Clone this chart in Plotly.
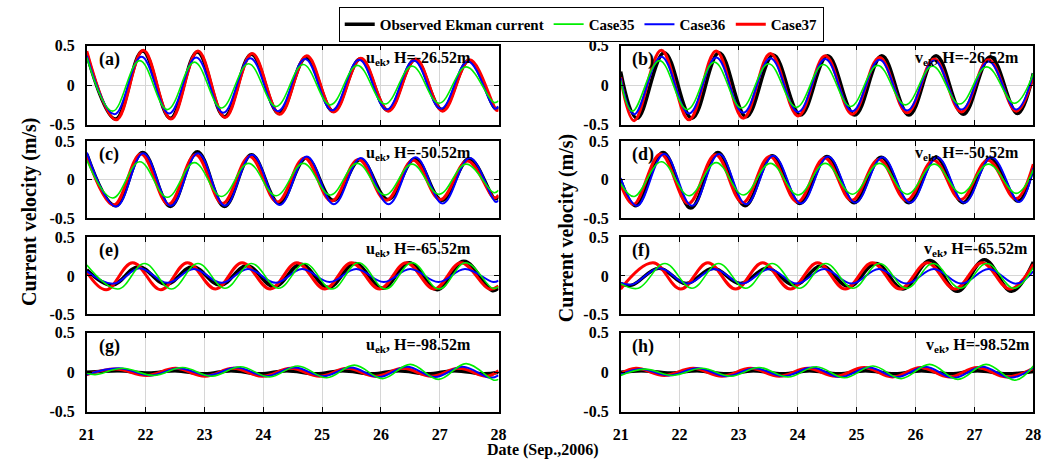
import plotly.graph_objects as go

# ---------------- data ----------------
DAYS = [21, 22, 23, 24, 25, 26, 27, 28]
DAY_LABELS = ["21", "22", "23", "24", "25", "26", "27", "28"]
Y_TICKS = [-0.5, 0, 0.5]
Y_LABELS = ["-0.5", "0", "0.5"]

SERIES_NAMES = ["Observed Ekman current", "Case35", "Case36", "Case37"]
PANEL_TAGS = ["(a)", "(b)", "(c)", "(d)", "(e)", "(f)", "(g)", "(h)"]
PANEL_COMP = ["u", "v", "u", "v", "u", "v", "u", "v"]
PANEL_DEPTH = ["-26.52", "-26.52", "-50.52", "-50.52", "-65.52", "-65.52", "-98.52", "-98.52"]

# (a) u, H=-26.52m
A_T_OBS = [21.00, 21.49, 21.95, 22.42, 22.88, 23.34, 23.80, 24.27, 24.73, 25.19, 25.65, 26.12, 26.58, 27.04, 27.50, 27.95, 28.00]
A_V_OBS = [0.39, -0.43, 0.43, -0.42, 0.42, -0.40, 0.39, -0.36, 0.35, -0.33, 0.33, -0.32, 0.32, -0.31, 0.31, -0.30, -0.28]
A_T_C35 = [21.00, 21.44, 21.90, 22.37, 22.83, 23.29, 23.75, 24.22, 24.68, 25.14, 25.60, 26.07, 26.53, 26.99, 27.45, 27.92, 28.00]
A_V_C35 = [0.35, -0.33, 0.31, -0.31, 0.29, -0.29, 0.27, -0.27, 0.26, -0.25, 0.25, -0.24, 0.24, -0.23, 0.23, -0.22, -0.20]
A_T_C36 = [21.00, 21.47, 21.93, 22.40, 22.86, 23.32, 23.78, 24.25, 24.71, 25.17, 25.63, 26.10, 26.56, 27.02, 27.48, 27.94, 28.00]
A_V_C36 = [0.37, -0.37, 0.36, -0.36, 0.35, -0.35, 0.34, -0.33, 0.33, -0.32, 0.32, -0.31, 0.31, -0.30, 0.30, -0.30, -0.27]
A_T_C37 = [21.00, 21.50, 21.96, 22.43, 22.89, 23.35, 23.81, 24.28, 24.74, 25.20, 25.66, 26.13, 26.59, 27.05, 27.51, 27.97, 28.00]
A_V_C37 = [0.43, -0.44, 0.44, -0.43, 0.43, -0.41, 0.40, -0.37, 0.37, -0.34, 0.34, -0.33, 0.33, -0.33, 0.32, -0.32, -0.31]

# (b) v, H=-26.52m
B_T_OBS = [21.00, 21.28, 21.74, 22.21, 22.67, 23.13, 23.59, 24.05, 24.51, 24.97, 25.43, 25.89, 26.35, 26.81, 27.27, 27.73, 28.00]
B_V_OBS = [0.17, -0.42, 0.41, -0.42, 0.41, -0.40, 0.38, -0.38, 0.37, -0.38, 0.37, -0.38, 0.37, -0.37, 0.36, -0.36, 0.15]
B_T_C35 = [21.00, 21.20, 21.66, 22.13, 22.59, 23.05, 23.51, 23.98, 24.44, 24.90, 25.36, 25.83, 26.29, 26.75, 27.21, 27.68, 28.00]
B_V_C35 = [0.06, -0.33, 0.31, -0.31, 0.29, -0.29, 0.27, -0.28, 0.26, -0.27, 0.25, -0.25, 0.24, -0.24, 0.23, -0.23, 0.15]
B_T_C36 = [21.00, 21.23, 21.69, 22.16, 22.62, 23.08, 23.54, 24.01, 24.47, 24.93, 25.39, 25.86, 26.32, 26.78, 27.24, 27.71, 28.00]
B_V_C36 = [0.09, -0.37, 0.36, -0.36, 0.35, -0.35, 0.34, -0.34, 0.33, -0.33, 0.32, -0.32, 0.31, -0.31, 0.30, -0.31, 0.15]
B_T_C37 = [21.00, 21.23, 21.69, 22.16, 22.62, 23.08, 23.54, 24.01, 24.47, 24.93, 25.39, 25.86, 26.32, 26.78, 27.24, 27.71, 28.00]
B_V_C37 = [0.10, -0.45, 0.44, -0.44, 0.43, -0.42, 0.40, -0.39, 0.37, -0.37, 0.35, -0.35, 0.33, -0.34, 0.32, -0.33, 0.12]

# (c) u, H=-50.52m
C_T_OBS = [21.00, 21.49, 21.95, 22.42, 22.88, 23.34, 23.80, 24.27, 24.73, 25.19, 25.65, 26.12, 26.58, 27.04, 27.50, 27.94, 28.00]
C_V_OBS = [0.33, -0.34, 0.35, -0.35, 0.36, -0.35, 0.32, -0.31, 0.28, -0.27, 0.26, -0.26, 0.27, -0.27, 0.27, -0.25, -0.22]
C_T_C35 = [21.00, 21.44, 21.90, 22.37, 22.83, 23.29, 23.75, 24.22, 24.68, 25.14, 25.60, 26.07, 26.53, 26.99, 27.45, 27.92, 28.00]
C_V_C35 = [0.25, -0.24, 0.23, -0.23, 0.22, -0.22, 0.21, -0.21, 0.21, -0.20, 0.21, -0.20, 0.20, -0.19, 0.20, -0.17, -0.14]
C_T_C36 = [21.00, 21.50, 21.96, 22.43, 22.89, 23.35, 23.81, 24.28, 24.74, 25.20, 25.66, 26.13, 26.59, 27.05, 27.51, 27.95, 28.00]
C_V_C36 = [0.35, -0.35, 0.34, -0.34, 0.34, -0.34, 0.32, -0.33, 0.30, -0.32, 0.28, -0.32, 0.29, -0.31, 0.28, -0.29, -0.27]
C_T_C37 = [21.00, 21.46, 21.92, 22.39, 22.85, 23.31, 23.77, 24.24, 24.70, 25.16, 25.62, 26.09, 26.55, 27.01, 27.47, 27.93, 28.00]
C_V_C37 = [0.31, -0.33, 0.33, -0.32, 0.32, -0.31, 0.30, -0.29, 0.28, -0.28, 0.26, -0.27, 0.25, -0.26, 0.24, -0.24, -0.20]

# (d) v, H=-50.52m
D_T_OBS = [21.00, 21.26, 21.72, 22.19, 22.65, 23.11, 23.57, 24.04, 24.50, 24.96, 25.42, 25.89, 26.35, 26.81, 27.27, 27.74, 28.00]
D_V_OBS = [-0.01, -0.34, 0.35, -0.37, 0.35, -0.34, 0.31, -0.31, 0.30, -0.30, 0.29, -0.30, 0.29, -0.30, 0.28, -0.28, 0.17]
D_T_C35 = [21.00, 21.23, 21.69, 22.16, 22.62, 23.08, 23.54, 24.01, 24.47, 24.93, 25.39, 25.86, 26.32, 26.78, 27.24, 27.71, 28.00]
D_V_C35 = [-0.05, -0.22, 0.23, -0.21, 0.22, -0.20, 0.21, -0.20, 0.21, -0.19, 0.21, -0.19, 0.20, -0.18, 0.20, -0.18, 0.13]
D_T_C36 = [21.00, 21.28, 21.74, 22.21, 22.67, 23.13, 23.59, 24.06, 24.52, 24.98, 25.44, 25.91, 26.37, 26.83, 27.29, 27.76, 28.00]
D_V_C36 = [0.02, -0.34, 0.33, -0.34, 0.33, -0.32, 0.31, -0.31, 0.30, -0.30, 0.29, -0.30, 0.29, -0.30, 0.29, -0.29, 0.15]
D_T_C37 = [21.00, 21.22, 21.68, 22.15, 22.61, 23.07, 23.53, 24.00, 24.46, 24.92, 25.38, 25.85, 26.31, 26.77, 27.23, 27.70, 28.00]
D_V_C37 = [-0.06, -0.32, 0.33, -0.31, 0.32, -0.30, 0.30, -0.29, 0.28, -0.27, 0.26, -0.27, 0.25, -0.26, 0.25, -0.25, 0.20]

# (e) u, H=-65.52m
E_T_OBS = [21.00, 21.43, 21.88, 22.35, 22.80, 23.27, 23.72, 24.19, 24.64, 25.11, 25.56, 26.03, 26.48, 26.96, 27.41, 27.89, 28.00]
E_V_OBS = [0.08, -0.12, 0.12, -0.11, 0.12, -0.12, 0.13, -0.14, 0.15, -0.15, 0.16, -0.16, 0.17, -0.18, 0.19, -0.19, -0.16]
E_T_C35 = [21.00, 21.53, 21.98, 22.44, 22.89, 23.35, 23.80, 24.26, 24.71, 25.17, 25.62, 26.08, 26.53, 26.99, 27.44, 27.90, 28.00]
E_V_C35 = [0.14, -0.17, 0.16, -0.17, 0.16, -0.16, 0.16, -0.16, 0.16, -0.17, 0.17, -0.17, 0.17, -0.17, 0.17, -0.16, -0.14]
E_T_C36 = [21.00, 21.45, 21.90, 22.37, 22.82, 23.29, 23.74, 24.21, 24.66, 25.13, 25.58, 26.05, 26.50, 26.98, 27.43, 27.91, 28.00]
E_V_C36 = [0.06, -0.10, 0.10, -0.09, 0.09, -0.09, 0.09, -0.09, 0.09, -0.08, 0.09, -0.08, 0.09, -0.08, 0.09, -0.08, -0.06]
E_T_C37 = [21.00, 21.33, 21.78, 22.26, 22.71, 23.19, 23.64, 24.12, 24.57, 25.05, 25.50, 25.98, 26.43, 26.91, 27.36, 27.84, 28.00]
E_V_C37 = [0.05, -0.18, 0.17, -0.18, 0.17, -0.17, 0.17, -0.17, 0.17, -0.17, 0.17, -0.17, 0.17, -0.17, 0.17, -0.17, -0.13]

# (f) v, H=-65.52m
F_T_OBS = [21.00, 21.19, 21.65, 22.11, 22.57, 23.03, 23.49, 23.95, 24.41, 24.87, 25.33, 25.79, 26.25, 26.71, 27.17, 27.63, 28.00]
F_V_OBS = [-0.10, -0.12, 0.10, -0.10, 0.10, -0.10, 0.10, -0.12, 0.13, -0.14, 0.16, -0.17, 0.20, -0.20, 0.21, -0.20, 0.18]
F_T_C35 = [21.00, 21.30, 21.75, 22.21, 22.66, 23.12, 23.57, 24.03, 24.48, 24.94, 25.39, 25.85, 26.30, 26.76, 27.21, 27.67, 28.00]
F_V_C35 = [-0.10, -0.16, 0.16, -0.16, 0.16, -0.16, 0.16, -0.16, 0.16, -0.16, 0.16, -0.16, 0.16, -0.16, 0.16, -0.16, 0.11]
F_T_C36 = [21.00, 21.20, 21.66, 22.13, 22.59, 23.06, 23.52, 23.99, 24.45, 24.92, 25.38, 25.85, 26.31, 26.78, 27.24, 27.71, 28.00]
F_V_C36 = [-0.09, -0.11, 0.10, -0.10, 0.09, -0.10, 0.09, -0.10, 0.09, -0.10, 0.09, -0.10, 0.09, -0.10, 0.09, -0.10, 0.06]
F_T_C37 = [21.00, 21.55, 22.02, 22.48, 22.95, 23.41, 23.88, 24.34, 24.81, 25.27, 25.74, 26.20, 26.67, 27.13, 27.60, 28.00]
F_V_C37 = [-0.17, 0.17, -0.17, 0.17, -0.17, 0.17, -0.17, 0.17, -0.17, 0.17, -0.17, 0.17, -0.17, 0.17, -0.17, 0.15]

# (g) u, H=-98.52m
G_T_OBS = [21.00, 21.55, 22.05, 22.50, 23.00, 23.45, 23.95, 24.40, 24.90, 25.35, 25.85, 26.30, 26.80, 27.25, 27.75, 28.00]
G_V_OBS = [0.00, 0.02, -0.01, 0.02, -0.02, 0.02, -0.02, 0.02, -0.02, 0.02, -0.02, 0.02, -0.02, 0.02, -0.02, 0.00]
G_T_C35 = [21.00, 21.14, 21.61, 22.14, 22.63, 23.13, 23.61, 24.11, 24.59, 25.08, 25.55, 26.03, 26.50, 26.98, 27.45, 27.92, 28.00]
G_V_C35 = [-0.01, -0.03, 0.05, -0.04, 0.06, -0.05, 0.07, -0.06, 0.08, -0.07, 0.09, -0.08, 0.10, -0.09, 0.11, -0.10, -0.09]
G_T_C36 = [21.00, 21.55, 22.08, 22.57, 23.07, 23.55, 24.05, 24.53, 25.02, 25.49, 25.97, 26.44, 26.92, 27.39, 27.86, 28.00]
G_V_C36 = [-0.03, 0.05, -0.04, 0.05, -0.04, 0.06, -0.05, 0.06, -0.05, 0.06, -0.06, 0.07, -0.06, 0.07, -0.07, -0.04]
G_T_C37 = [21.00, 21.49, 22.02, 22.51, 23.01, 23.49, 23.99, 24.47, 24.96, 25.43, 25.91, 26.38, 26.86, 27.33, 27.80, 28.00]
G_V_C37 = [-0.03, 0.04, -0.04, 0.05, -0.05, 0.05, -0.05, 0.05, -0.05, 0.05, -0.05, 0.05, -0.05, 0.05, -0.05, 0.02]

# (h) v, H=-98.52m
H_T_OBS = [21.00, 21.35, 21.85, 22.30, 22.80, 23.25, 23.75, 24.20, 24.70, 25.15, 25.65, 26.10, 26.60, 27.05, 27.55, 28.00]
H_V_OBS = [0.00, 0.02, -0.01, 0.02, -0.02, 0.02, -0.02, 0.02, -0.02, 0.02, -0.02, 0.02, -0.02, 0.02, -0.02, 0.01]
H_T_C35 = [21.00, 21.41, 21.89, 22.38, 22.87, 23.35, 23.84, 24.32, 24.80, 25.28, 25.76, 26.24, 26.72, 27.20, 27.69, 28.00]
H_V_C35 = [-0.04, 0.04, -0.04, 0.05, -0.05, 0.06, -0.06, 0.07, -0.07, 0.08, -0.08, 0.10, -0.09, 0.10, -0.10, 0.08]
H_T_C36 = [21.00, 21.34, 21.82, 22.31, 22.80, 23.28, 23.77, 24.25, 24.73, 25.21, 25.69, 26.17, 26.65, 27.13, 27.62, 28.00]
H_V_C36 = [-0.03, 0.04, -0.04, 0.05, -0.05, 0.05, -0.05, 0.06, -0.06, 0.06, -0.06, 0.07, -0.07, 0.07, -0.07, 0.06]
H_T_C37 = [21.00, 21.26, 21.74, 22.23, 22.72, 23.20, 23.69, 24.17, 24.65, 25.13, 25.61, 26.09, 26.57, 27.05, 27.54, 28.00]
H_V_C37 = [-0.02, 0.05, -0.04, 0.05, -0.05, 0.05, -0.05, 0.05, -0.05, 0.06, -0.06, 0.06, -0.06, 0.06, -0.06, 0.05]

PANEL_DATA = [
    [(A_T_OBS, A_V_OBS), (A_T_C35, A_V_C35), (A_T_C36, A_V_C36), (A_T_C37, A_V_C37)],
    [(B_T_OBS, B_V_OBS), (B_T_C35, B_V_C35), (B_T_C36, B_V_C36), (B_T_C37, B_V_C37)],
    [(C_T_OBS, C_V_OBS), (C_T_C35, C_V_C35), (C_T_C36, C_V_C36), (C_T_C37, C_V_C37)],
    [(D_T_OBS, D_V_OBS), (D_T_C35, D_V_C35), (D_T_C36, D_V_C36), (D_T_C37, D_V_C37)],
    [(E_T_OBS, E_V_OBS), (E_T_C35, E_V_C35), (E_T_C36, E_V_C36), (E_T_C37, E_V_C37)],
    [(F_T_OBS, F_V_OBS), (F_T_C35, F_V_C35), (F_T_C36, F_V_C36), (F_T_C37, F_V_C37)],
    [(G_T_OBS, G_V_OBS), (G_T_C35, G_V_C35), (G_T_C36, G_V_C36), (G_T_C37, G_V_C37)],
    [(H_T_OBS, H_V_OBS), (H_T_C35, H_V_C35), (H_T_C36, H_V_C36), (H_T_C37, H_V_C37)],
]

# ---------------- styling ----------------
W, H = 1063, 468
FONT = '"Liberation Serif", "Times New Roman", Times, serif'
COLORS = ["#000000", "#00ee00", "#0000ff", "#ff0000"]
WIDTHS = [3.5, 1.6, 2.0, 3.0]
DRAW_ORDER = [0, 3, 2, 1]           # black, red, blue, green
LEGEND_RANK = [1, 2, 3, 4]

COL_PX = [(80, 498), (622, 1041)]
ROW_PX = [(39, 121), (138, 218), (238, 318), (337, 419)]
RIGHT_LABEL_END = [472, 1028, 472, 1028, 472, 1038, 472, 1040]


def px_x(p):
    return p / W


def px_y(p):
    return 1 - p / H


fig = go.Figure()
layout_axes = {}
annotations = []

for i in range(8):
    row, col = divmod(i, 2)
    n = i + 1
    xname = "x" if n == 1 else f"x{n}"
    yname = "y" if n == 1 else f"y{n}"
    for k in DRAW_ORDER:
        t, v = PANEL_DATA[i][k]
        fig.add_trace(go.Scatter(
            x=t, y=v, mode="lines",
            line=dict(color=COLORS[k], width=WIDTHS[k], shape="spline", smoothing=1.1),
            name=SERIES_NAMES[k], legendgroup=SERIES_NAMES[k],
            legendrank=LEGEND_RANK[k], showlegend=(i == 0),
            xaxis=xname, yaxis=yname, hoverinfo="skip",
        ))
    x0, x1 = COL_PX[col]
    y0, y1 = ROW_PX[row]
    tickfont = dict(family=FONT, size=16, color="black", weight="bold")
    layout_axes[f"xaxis{n}"] = dict(
        domain=[px_x(x0), px_x(x1)], anchor=yname, range=[21, 28],
        tickmode="array", tickvals=DAYS, ticktext=DAY_LABELS,
        showticklabels=(row == 3), ticks="inside", ticklen=5, tickwidth=1.2,
        tickcolor="black", showline=True, linecolor="black", linewidth=1.5,
        mirror="ticks", showgrid=True, gridcolor="#d6d6d6", gridwidth=1,
        zeroline=False, tickfont=tickfont, ticklabelstandoff=7, fixedrange=True,
    )
    layout_axes[f"yaxis{n}"] = dict(
        domain=[px_y(y1), px_y(y0)], anchor=xname, range=[-0.5, 0.5],
        tickmode="array", tickvals=Y_TICKS, ticktext=Y_LABELS,
        ticks="inside", ticklen=5, tickwidth=1.2, tickcolor="black",
        showline=True, linecolor="black", linewidth=1.5, mirror="ticks",
        showgrid=True, gridcolor="#d6d6d6", gridwidth=1, zeroline=False,
        tickfont=tickfont, ticklabelstandoff=7, fixedrange=True,
    )
    annotations.append(dict(
        text=PANEL_TAGS[i], xref="paper", yref="paper",
        x=px_x(x0 + 10), y=px_y(y0 + 1), xanchor="left", yanchor="top",
        showarrow=False, font=dict(family=FONT, size=18, color="black", weight="bold"),
    ))
    annotations.append(dict(
        text=f"{PANEL_COMP[i]}<sub>ek</sub>, H={PANEL_DEPTH[i]}m",
        xref="paper", yref="paper",
        x=px_x(RIGHT_LABEL_END[i]), y=px_y(y0 + 1), xanchor="right", yanchor="top",
        showarrow=False, font=dict(family=FONT, size=16, color="black", weight="bold"),
    ))

for xc, yc in [(22, 212), (567, 228)]:
    annotations.append(dict(
        text="Current velocity (m/s)", xref="paper", yref="paper",
        x=px_x(xc), y=px_y(yc), xanchor="center", yanchor="middle",
        textangle=-90, showarrow=False,
        font=dict(family=FONT, size=20, color="black", weight="bold"),
    ))

annotations.append(dict(
    text="Date (Sep.,2006)", xref="paper", yref="paper",
    x=px_x(543), y=px_y(459), xanchor="center", yanchor="middle",
    showarrow=False, font=dict(family=FONT, size=16, color="black", weight="bold"),
))

fig.update_layout(
    width=W, height=H, margin=dict(l=0, r=0, t=0, b=0),
    paper_bgcolor="white", plot_bgcolor="white",
    showlegend=True,
    legend=dict(
        orientation="h", x=px_x(582), y=px_y(17), xanchor="center", yanchor="middle",
        bordercolor="black", borderwidth=1, bgcolor="white",
        font=dict(family=FONT, size=15, color="black", weight="bold"),
        itemwidth=30, tracegroupgap=0, traceorder="normal",
    ),
    annotations=annotations,
    **layout_axes,
)

fig.write_html("out.html")
